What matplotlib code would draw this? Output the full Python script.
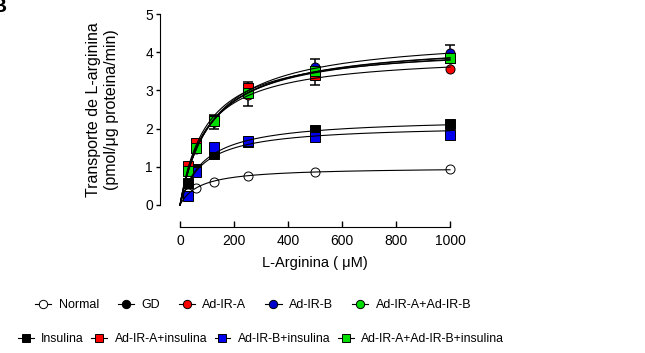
import numpy as np
import matplotlib
matplotlib.use("Agg")
import matplotlib.pyplot as plt
from matplotlib.lines import Line2D

plt.rcParams["font.family"] = ["Liberation Sans", "DejaVu Sans"]

# L-arginine concentrations (uM)
conc = [30, 60, 125, 250, 500, 1000]

normal = [0.31, 0.44, 0.61, 0.77, 0.86, 0.93]
gd = [0.95, 1.50, 2.18, 2.90, 3.48, 3.82]
ad_ir_a = [0.97, 1.52, 2.17, 2.88, 3.40, 3.55]
ad_ir_b = [0.92, 1.48, 2.20, 2.95, 3.62, 3.97]
ad_ir_ab = [0.90, 1.47, 2.19, 2.92, 3.50, 3.84]
insulina = [0.58, 0.95, 1.33, 1.65, 1.96, 2.11]
ad_ir_a_ins = [1.03, 1.61, 2.22, 3.05, 3.40, 3.85]
ad_ir_b_ins = [0.24, 0.87, 1.53, 1.68, 1.77, 1.83]
ad_ir_ab_ins = [0.90, 1.48, 2.21, 2.92, 3.50, 3.86]

gd_err = [0, 0.15, 0.18, 0.31, 0.34, 0]
ad_ir_b_err = [0, 0, 0, 0, 0, 0.22]

labels_row1 = ["Normal", "GD", "Ad-IR-A", "Ad-IR-B", "Ad-IR-A+Ad-IR-B"]
labels_row2 = ["Insulina", "Ad-IR-A+insulina", "Ad-IR-B+insulina",
               "Ad-IR-A+Ad-IR-B+insulina"]

# (values, errors, marker, face colour)
series = [
    (normal, None, "o", "white"),
    (gd, gd_err, "o", "black"),
    (ad_ir_a, None, "o", "red"),
    (ad_ir_b, ad_ir_b_err, "o", "#0000cc"),
    (ad_ir_ab, None, "o", "#00dd00"),
    (insulina, None, "s", "black"),
    (ad_ir_b_ins, None, "s", "#0000ee"),
    (ad_ir_a_ins, None, "s", "red"),
    (ad_ir_ab_ins, None, "s", "#00dd00"),
]


def mm_fit(x, y):
    # Michaelis-Menten: grid over Km, Vmax by least squares
    x = np.asarray(x, float)
    y = np.asarray(y, float)
    best = None
    for km in np.linspace(1, 2000, 4000):
        f = x / (km + x)
        vmax = np.dot(f, y) / np.dot(f, f)
        sse = np.sum((y - vmax * f) ** 2)
        if best is None or sse < best[0]:
            best = (sse, vmax, km)
    return best[1], best[2]


fig = plt.figure(figsize=(6.45, 3.53), dpi=100)
ax = fig.add_axes([180 / 645, 1 - 205 / 353, 270 / 645, 191 / 353])

xs = np.linspace(0, 1000, 400)
for vals, err, mk, fc in series:
    if err is not None:
        ax.errorbar(conc, vals, yerr=err, fmt="none", ecolor="black",
                    elinewidth=1.1, capsize=3.5, capthick=1.1, zorder=2,
                    clip_on=False)
    ax.plot(conc, vals, linestyle="none", marker=mk, markersize=6.5,
            markerfacecolor=fc, markeredgecolor="black", markeredgewidth=0.7,
            zorder=3, clip_on=False)
    vmax, km = mm_fit(conc, vals)
    ax.plot(xs, vmax * xs / (km + xs), color="black", lw=0.8, zorder=4,
            clip_on=False)

ax.set_xlim(0, 1000)
ax.set_ylim(0, 5)
ax.set_xticks([0, 200, 400, 600, 800, 1000])
ax.set_yticks([0, 1, 2, 3, 4, 5])
for s in ["top", "right"]:
    ax.spines[s].set_visible(False)
ax.spines["left"].set_position(("outward", 14.4))
ax.spines["bottom"].set_position(("outward", 15.8))
ax.spines["left"].set_bounds(0, 5)
ax.spines["bottom"].set_bounds(0, 1000)
ax.tick_params(axis="y", direction="out", length=3, width=1, labelsize=10, pad=2)
ax.tick_params(axis="x", direction="in", length=4, width=1, labelsize=10, pad=5)
ax.set_xlabel("L-Arginina ( \u03bcM)", fontsize=10.5, labelpad=6)
ax.set_ylabel("Transporte de L-arginina\n(pmol/\u03bcg proteina/min)",
              fontsize=11.5, labelpad=19)

fig.text(7 / 645, 1 - 12 / 353, "B", ha="right", va="baseline",
         fontsize=15, fontweight="bold")

def handle(mk, fc):
    return Line2D([], [], color="black", lw=0.8, marker=mk, markersize=6,
                  markerfacecolor=fc, markeredgecolor="black",
                  markeredgewidth=0.7)

row1_h = [handle("o", s[3]) for s in series[:5]]
row2_cols = ["black", "red", "#0000ee", "#00dd00"]
row2_h = [handle("s", c) for c in row2_cols]

leg1 = fig.legend(row1_h, labels_row1, ncol=5, loc="center",
                  bbox_to_anchor=(253 / 645, 1 - 305 / 353), frameon=False,
                  fontsize=9, handlelength=1.3, handletextpad=0.6,
                  columnspacing=1.5, borderpad=0)
leg2 = fig.legend(row2_h, labels_row2, ncol=4, loc="center",
                  bbox_to_anchor=(261 / 645, 1 - 339 / 353), frameon=False,
                  fontsize=8.8, handlelength=1.3, handletextpad=0.6,
                  columnspacing=0.6, borderpad=0)

fig.savefig("out.png", dpi=100)
